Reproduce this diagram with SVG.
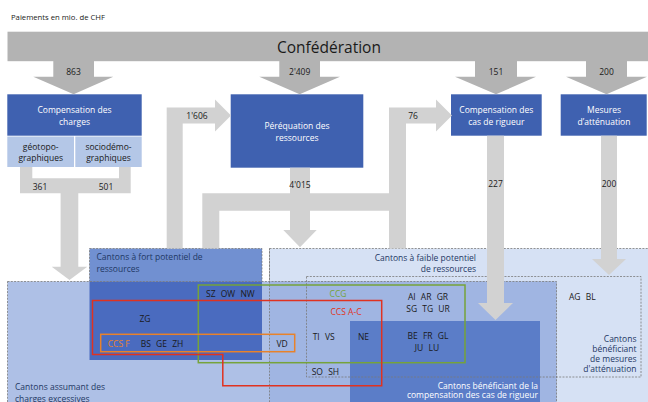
<svg xmlns="http://www.w3.org/2000/svg" width="648" height="402" viewBox="0 0 648 402">
<style>
text{font-family:"Open Sans","Noto Sans","DejaVu Sans",sans-serif;font-size:8.5px;fill:#1a1a1a}
.w{fill:#ffffff}
.c{text-anchor:middle}
.r{text-anchor:end}
.lbl{fill:#1f3864}
.code{word-spacing:3px}
.dash{stroke:#7a7a7a;stroke-width:0.8;stroke-dasharray:2 1.3}
.box{fill:#3f61b0}
.sub{fill:#b4c7e7}
.band{fill:#b3b3b3}
.con{fill:#d2d2d2}
</style>
<rect width="648" height="402" fill="#ffffff"/>
<text x="11" y="20" style="font-size:7.7px">Paiements en mio. de CHF</text>

<g id="confederation">
<rect class="band" x="7.5" y="31.7" width="641" height="29.5"/>
<text x="329" y="53" class="c" style="font-size:15.5px">Confédération</text>
</g>

<g id="compensation-charges">
<rect class="box" x="7.3" y="94.3" width="134.4" height="41.4"/>
<text x="74.5" y="113" class="c w">Compensation des</text>
<text x="74.5" y="124.5" class="c w">charges</text>
</g>
<g id="geotopo">
<rect class="sub" x="7.3" y="136.5" width="66.7" height="30.5"/>
<text x="40.7" y="149.5" class="c">géotopo-</text>
<text x="40.7" y="161" class="c">graphiques</text>
</g>
<g id="sociodemo">
<rect class="sub" x="75.3" y="136.5" width="66.4" height="30.5"/>
<text x="108.5" y="149.5" class="c">sociodémo-</text>
<text x="108.5" y="161" class="c">graphiques</text>
</g>
<g id="perequation">
<rect class="box" x="230.7" y="94.3" width="132.6" height="73.4"/>
<text x="297" y="129" class="c w">Péréquation des</text>
<text x="297" y="141" class="c w">ressources</text>
</g>
<g id="cas-rigueur">
<rect class="box" x="451" y="94.3" width="90.7" height="41.4"/>
<text x="496.3" y="113" class="c w">Compensation des</text>
<text x="496.3" y="124.5" class="c w">cas de rigueur</text>
</g>
<g id="mesures">
<rect class="box" x="560.7" y="94.3" width="86" height="41.4"/>
<text x="604" y="113" class="c w">Mesures</text>
<text x="604" y="124.5" class="c w">d’atténuation</text>
</g>

<g id="cantons-faible">
<rect x="269.5" y="248.5" width="385" height="170" fill="#d6e1f4" class="dash"/>
<text x="476" y="260.5" class="r lbl">Cantons à faible potentiel</text>
<text x="476" y="272" class="r lbl">de ressources</text>
</g>
<g id="cantons-fort">
<rect x="89.5" y="248.5" width="172.5" height="111.5" fill="#7190d1" class="dash"/>
<text x="96.5" y="260" class="lbl">Cantons à fort potentiel de</text>
<text x="96.5" y="272" class="lbl">ressources</text>
</g>
<g id="cantons-assumant">
<rect x="7.5" y="281.5" width="549" height="130" fill="#aec0e6"/>
<rect x="89.5" y="281.5" width="172.5" height="78.5" fill="#4a6bbf"/>
<rect x="269.5" y="281.5" width="287" height="130" fill="#a0b5e2"/>
<rect x="7.5" y="281.5" width="549" height="130" fill="none" class="dash"/>
<line x1="269.5" y1="248.5" x2="269.5" y2="402" class="dash"/>
<text x="15" y="390" class="lbl">Cantons assumant des</text>
<text x="15" y="401.5" class="lbl">charges excessives</text>
</g>
<g id="cantons-rigueur">
<rect x="350" y="321" width="190" height="90" fill="#5b7dc8"/>
<text x="538" y="388.5" class="r lbl" style="fill:#ffffff">Cantons bénéficiant de la</text>
<text x="538" y="398" class="r lbl" style="fill:#ffffff">compensation des cas de rigueur</text>
</g>
<g id="cantons-attenuation">
<rect x="306.5" y="276.5" width="334.5" height="100.5" fill="none" class="dash"/>
<text x="569" y="300" class="code">AG BL</text>
<text x="636.5" y="342" class="r lbl">Cantons</text>
<text x="636.5" y="352" class="r lbl">bénéficiant</text>
<text x="636.5" y="362" class="r lbl">de mesures</text>
<text x="636.5" y="371.5" class="r lbl">d'atténuation</text>
</g>

<g id="cantons-codes">
<text x="206" y="297" class="code">SZ OW NW</text>
<text x="145" y="322" class="c">ZG</text>
<text x="140.7" y="346.5" class="code">BS GE ZH</text>
<text x="282" y="346.5" class="c">VD</text>
<text x="312.7" y="340" class="code">TI VS</text>
<text x="363.5" y="340" class="c">NE</text>
<text x="428" y="300" class="c code">AI AR GR</text>
<text x="428" y="312" class="c code">SG TG UR</text>
<text x="428" y="339" class="c code">BE FR GL</text>
<text x="427" y="350.5" class="c code">JU LU</text>
<text x="311.7" y="375" class="code">SO SH</text>
</g>

<g id="ccg">
<rect x="198.3" y="285" width="266.7" height="77.7" fill="none" stroke="#76a33a" stroke-width="1.5"/>
<text x="338" y="296.5" class="c" style="fill:#76a33a">CCG</text>
</g>
<g id="ccs-a-c">
<path d="M92.5,300.5 H381.7 V385.8 H222.8 V354.5 H92.5 Z" fill="none" stroke="#e03220" stroke-width="1.5"/>
<text x="346" y="315" class="c" style="fill:#e03220">CCS A-C</text>
</g>
<g id="ccs-f">
<rect x="100.7" y="334.3" width="194" height="17.4" fill="none" stroke="#e8822a" stroke-width="1.5"/>
<text x="107.7" y="346.5" style="fill:#e8822a">CCS F</text>
</g>

<g id="connectors">
<path class="band" d="M53.3,61 H94 V76.7 H113.3 L73.6,94.3 L33.3,76.7 H53.3 Z"/>
<path class="band" d="M279.3,61 H320 V76.7 H340 L299.7,94.3 L259.3,76.7 H279.3 Z"/>
<path class="band" d="M475,61 H517 V76.7 H536 L496,94.3 L455,76.7 H475 Z"/>
<path class="band" d="M586,61 H627 V76.7 H647 L606.5,94.3 L566,76.7 H586 Z"/>
<path class="con" d="M20,167 H32.3 V178.3 H119 V167 H130.7 V193.3 H78.3 V266.7 H87.3 L69.5,280 L51.7,266.7 H60.6 V193.3 H20 Z"/>
<path class="con" d="M166.7,248.5 V107.5 H215 V99.5 L231,115.5 L215,131.5 V123.5 H182.7 V248.5 Z"/>
<path class="con" d="M290,167.7 H310 V193.3 H389 V123.5 V107.5 H436 V99.5 L452,115.5 L436,131.5 V123.5 H406 V248.5 H389 V210.7 H310 V230 H316.7 L300,247.3 L283.3,230 H290 V210.7 H219.3 V248.5 H202.3 V193.3 H290 Z"/>
<path class="con" d="M487,135.7 H504 V303 H513 L495.5,320 L478,303 H487 Z"/>
<path class="con" d="M601,135.7 H617 V259 H626 L609,275 L592,259 H601 Z"/>
<text x="73.5" y="74.7" class="c">863</text>
<text x="299.7" y="74.7" class="c">2'409</text>
<text x="496" y="74.7" class="c">151</text>
<text x="606.5" y="74.7" class="c">200</text>
<text x="40" y="190" class="c">361</text>
<text x="106" y="190" class="c">501</text>
<text x="197" y="119" class="c">1'606</text>
<text x="413" y="118.5" class="c">76</text>
<text x="300" y="188" class="c">4'015</text>
<text x="495.5" y="186.5" class="c">227</text>
<text x="609" y="186.5" class="c">200</text>
</g>
</svg>
